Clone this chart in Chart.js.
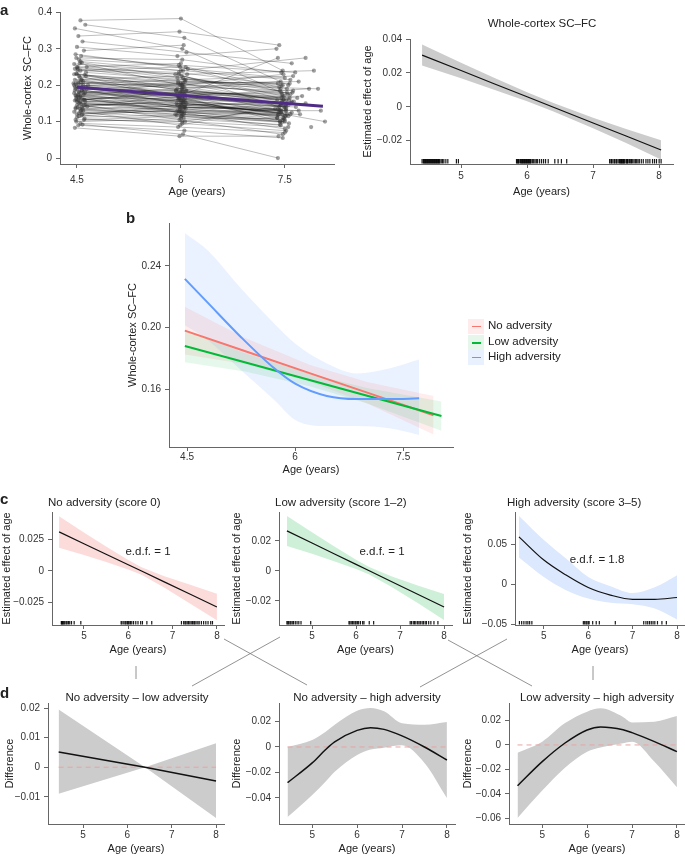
<!DOCTYPE html>
<html>
<head>
<meta charset="utf-8">
<script src="https://cdn.jsdelivr.net/npm/chart.js@4.4.0/dist/chart.umd.min.js"></script>
<style>
  body{margin:0;background:#fff;width:685px;height:856px;position:relative;overflow:hidden;font-family:"Liberation Sans",Arial,sans-serif;color:#222}
  canvas{position:absolute}
  .t{position:absolute;font-size:11.5px;white-space:nowrap;line-height:1}
  .lt{position:absolute;font-weight:bold;font-size:15px;line-height:1}
  .key{position:absolute;width:16px;height:15px}
  .key i{position:absolute;left:4px;width:9px;top:7px}
  svg{position:absolute;left:0;top:0}
</style>
</head>
<body>
<svg width="685" height="856">
  <g stroke="#777" stroke-width="0.8">
    <line x1="136" y1="666" x2="136" y2="679"/>
    <line x1="593" y1="666" x2="593" y2="680"/>
    <line x1="224" y1="639" x2="307" y2="685"/>
    <line x1="280" y1="637" x2="192" y2="686"/>
    <line x1="448" y1="640" x2="532" y2="686"/>
    <line x1="507" y1="639" x2="420" y2="687"/>
  </g>
</svg>
<script>
// ---------- panel a, left: individual trajectories ----------
const w1Age = [4.47,4.55,4.62,4.52,4.58,4.50,4.60,4.48,4.53,4.57, 4.46,4.64,4.51,4.55,4.49,4.61,4.54,4.47,4.59,4.52, 4.56,4.50,4.63,4.48,4.57,4.53,4.46,4.60,4.51,4.55, 4.49,4.58,4.47,4.62,4.52,4.56,4.50,4.65,4.48,4.54, 4.59,4.46,4.53,4.57,4.50,4.61,4.49,4.55,4.52,4.47, 4.58,4.51,4.56,4.60,4.48,null,4.54,4.63,4.45,4.52, null,4.57,4.50,4.66,4.49,4.55,4.53,4.60,4.47,4.58, 4.51,4.56,4.50,4.62,null,4.53,4.48,4.55,4.59,4.46,
  4.52,4.57,4.49,4.60,4.54,4.47,4.63,4.50,4.56,4.53, 4.48,4.59,4.51,4.55,4.61,4.46,4.58,4.52,4.64,4.50, 4.55,4.47,4.60,4.53,4.57,4.49,4.62,4.51,4.56,4.48];
const w1Val = [0.356,0.378,0.366,0.335,0.320,0.305,0.295,0.285,0.270,0.262, 0.258,0.250,0.245,0.240,0.232,0.228,0.222,0.215,0.210,0.205, 0.200,0.198,0.195,0.190,0.186,0.182,0.178,0.175,0.170,0.168, 0.165,0.162,0.158,0.155,0.152,0.148,0.145,0.142,0.138,0.135, 0.130,0.127,0.122,0.118,0.112,0.108,0.100,0.095,0.090,0.083, 0.092,0.250,0.215,0.190,0.172,null,0.260,0.235,0.205,0.160, null,0.140,0.120,0.200,0.275,0.170,0.225,0.145,0.185,0.135, 0.240,0.210,0.155,0.180,null,0.165,0.105,0.128,0.200,0.230,
  0.210,0.185,0.170,0.160,0.150,0.195,0.225,0.250,0.130,0.115, 0.205,0.178,0.140,0.265,0.160,0.200,0.120,0.175,0.190,0.230, 0.155,0.245,0.105,0.180,0.215,0.160,0.145,0.190,0.280,0.135];
const w2Age = [6.02,6.00,6.05,5.98,6.08,5.95,6.04,6.10,5.97,6.03, 6.00,5.92,6.06,5.99,6.02,5.96,6.07,6.01,5.94,6.05, 5.98,6.03,6.00,5.93,6.08,6.01,5.97,6.04,5.99,6.06, 5.95,6.02,6.00,5.96,6.05,5.98,6.03,5.92,6.07,6.01, 5.97,6.04,5.99,6.06,5.94,6.02,6.00,5.96,6.05,5.98, 6.03,6.00,null,6.02,5.95,6.04,6.01,6.07,5.99,6.03, 5.97,6.00,6.05,5.93,6.02,6.00,6.06,5.98,6.04,5.95, 6.09,null,6.01,6.03,null,5.97,6.02,5.99,6.05,5.96,
  6.01,5.97,6.04,6.00,6.06,5.98,6.03,5.95,6.02,5.99, 6.05,6.00,5.96,6.03,6.08,5.94,6.01,6.04,5.98,6.02, 6.06,5.97,6.00,6.03,5.95,6.05,6.01,5.99,6.07,6.02];
const w2Val = [0.300,0.383,0.330,0.347,0.290,0.280,0.310,0.245,0.255,0.220, 0.240,0.230,0.210,0.250,0.190,0.205,0.185,0.225,0.175,0.195, 0.160,0.205,0.170,0.185,0.150,0.175,0.165,0.140,0.180,0.155, 0.130,0.165,0.145,0.160,0.125,0.140,0.150,0.120,0.135,0.115, 0.128,0.110,0.130,0.100,0.118,0.095,0.108,0.085,0.075,0.060, 0.065,0.260,null,0.200,0.190,0.120,0.200,0.215,0.200,0.180, 0.230,0.160,0.140,0.185,0.270,0.125,0.165,0.105,0.155,0.145, 0.230,null,0.130,0.170,null,0.125,0.100,0.090,0.175,0.210,
  0.190,0.170,0.160,0.150,0.140,0.180,0.195,0.220,0.120,0.135, 0.215,0.205,0.170,0.240,0.185,0.150,0.145,0.135,0.165,0.185, 0.145,0.235,0.115,0.155,0.170,0.175,0.155,0.140,0.250,0.125];
const w3Age = [7.45,7.47,7.55,7.42,7.60,7.38,null,7.50,7.65,7.44, 7.80,7.52,7.40,7.58,7.47,7.70,7.43,7.49,7.55,7.62, 7.41,7.46,7.85,7.50,7.44,7.57,7.39,7.52,7.48,7.66, 7.43,7.53,7.45,7.75,7.50,7.42,7.58,7.47,7.51,7.44, 7.60,7.49,7.40,7.55,7.46,7.52,7.43,7.50,7.47,7.41, 7.40,null,7.45,7.53,7.44,7.50,7.48,7.62,null,7.46, 7.42,7.59,7.51,7.68,7.45,7.39,7.56,7.47,7.53,7.80, 7.92,7.98,8.02,8.08,7.88,7.72,7.36,7.44,7.40,7.57,
  7.48,7.44,7.52,7.41,7.55,7.47,7.60,7.43,7.50,7.46, 7.42,7.54,7.49,7.58,7.45,7.40,7.63,7.51,7.44,7.56, 7.70,7.47,7.43,7.52,7.39,7.61,7.48,7.45,7.53,7.50];
const w3Val = [0.180,0.240,0.200,0.310,0.260,0.300,null,0.220,0.235,0.190, 0.275,0.160,0.205,0.175,0.150,0.210,0.130,0.170,0.145,0.185, 0.120,0.155,0.190,0.140,0.125,0.165,0.110,0.135,0.160,0.140, 0.100,0.150,0.128,0.170,0.115,0.132,0.120,0.105,0.145,0.090, 0.125,0.108,0.118,0.085,0.098,0.075,0.092,0.070,0.055,0.060, 0.000,null,0.200,0.180,0.210,0.100,0.230,0.225,null,0.175, 0.140,0.150,0.130,0.165,0.235,0.110,0.095,0.065,0.120,0.150, 0.240,0.190,0.130,0.100,0.085,0.120,0.135,0.145,0.275,0.205,
  0.160,0.145,0.130,0.125,0.115,0.170,0.155,0.185,0.105,0.120, 0.195,0.175,0.140,0.215,0.165,0.135,0.155,0.115,0.150,0.160, 0.130,0.200,0.100,0.140,0.160,0.180,0.110,0.130,0.190,0.080];
const fitAge = [4.5, 8.05];
const fitVal = [0.1945, 0.1425];

// ---------- panel a, right: smooth of age ----------
const aAge   = [4.41, 5.0, 5.5, 6.0, 6.4, 7.0, 7.5, 8.03];
const aFit   = [0.0305, 0.0214, 0.0136, 0.0059, -0.0003, -0.0096, -0.0173, -0.0255];
const aUpper = [0.0367, 0.0260, 0.0171, 0.0086, 0.0022, -0.0065, -0.0132, -0.0198];
const aLower = [0.0243, 0.0168, 0.0101, 0.0032, -0.0028, -0.0127, -0.0214, -0.0312];
const rugAll = [4.41,4.43,4.44,4.45,4.46,4.47,4.48,4.49,4.5,4.51,4.52,4.53,4.54,4.55,4.56,4.57,4.58,4.59,4.6,4.61,4.62,4.63,4.64,4.65,4.66,4.67,4.68,4.7,4.72,4.74,4.77,4.8,4.93,4.96,
  5.84,5.85,5.86,5.87,5.88,5.9,5.91,5.92,5.93,5.94,5.95,5.96,5.97,5.98,5.99,6.0,6.01,6.02,6.03,6.04,6.05,6.06,6.08,6.1,6.12,6.14,6.16,6.19,6.22,6.25,6.28,6.32,6.42,6.47,6.52,6.6,
  7.25,7.27,7.28,7.3,7.32,7.33,7.35,7.36,7.38,7.4,7.41,7.42,7.43,7.44,7.45,7.46,7.47,7.48,7.5,7.51,7.52,7.53,7.55,7.57,7.58,7.6,7.62,7.64,7.66,7.68,7.7,7.73,7.76,7.8,7.83,7.86,7.9,7.93,7.96,8.0,8.03];

// ---------- panel b: group trajectories ----------
const noAge = [4.47, 5.3, 6.2, 7.0, 7.92];
const noFit = [0.198, 0.1848, 0.1704, 0.1577, 0.143];
const noUp  = [0.2135, 0.1933, 0.1759, 0.1647, 0.1555];
const noLo  = [0.1825, 0.1763, 0.1649, 0.1507, 0.1305];
const lowAge = [4.47, 5.3, 6.2, 7.0, 8.03];
const lowFit = [0.188, 0.1774, 0.1659, 0.1557, 0.1425];
const lowUp  = [0.1985, 0.1834, 0.1699, 0.1607, 0.152];
const lowLo  = [0.1775, 0.1714, 0.1619, 0.1507, 0.133];
const highAge = [4.47, 4.79, 5.25, 5.71, 6.0, 6.44, 6.86, 7.3, 7.72];
const highFit = [0.2316, 0.2160, 0.1937, 0.1735, 0.1635, 0.1555, 0.1535, 0.1535, 0.1540];
const highUp  = [0.2614, 0.2500, 0.2253, 0.2026, 0.1896, 0.1767, 0.1702, 0.1734, 0.1792];
const highLo  = [0.2015, 0.1918, 0.1723, 0.1530, 0.1400, 0.1360, 0.1360, 0.1345, 0.1302];

// ---------- panel c: smooths per group ----------
const c1Age = [4.44, 5.0, 5.5, 6.0, 6.3, 6.8, 7.4, 8.0];
const c1Fit = [0.031, 0.0216, 0.0133, 0.0049, -0.0001, -0.0085, -0.0185, -0.0286];
const c1Up  = [0.0435, 0.0306, 0.0195, 0.0087, 0.0029, -0.004, -0.011, -0.0181];
const c1Lo  = [0.0185, 0.0126, 0.0071, 0.0011, -0.0031, -0.013, -0.026, -0.0391];
const c1Rug = [4.49,4.5,4.52,4.53,4.55,4.57,4.6,4.62,4.65,4.68,4.72,4.78,4.93,5.84,5.86,5.9,5.93,5.95,5.98,6.0,6.02,6.05,6.08,6.12,6.17,6.22,6.28,6.32,6.42,6.53,7.2,7.25,7.28,7.3,7.33,7.36,7.39,7.42,7.45,7.48,7.5,7.53,7.57,7.6,7.65,7.7,7.75,7.8,7.86,7.9];
const c2Age = [4.43, 5.0, 5.5, 6.0, 6.3, 6.8, 7.4, 8.0];
const c2Fit = [0.0267, 0.0186, 0.0115, 0.0044, 0.0001, -0.0070, -0.0155, -0.024];
const c2Up  = [0.0367, 0.0258, 0.0165, 0.0074, 0.0026, -0.0035, -0.0097, -0.0153];
const c2Lo  = [0.0167, 0.0114, 0.0065, 0.0014, -0.0024, -0.0105, -0.0213, -0.0327];
const c2Rug = [4.43,4.45,4.47,4.5,4.52,4.55,4.58,4.62,4.66,4.7,4.75,4.97,5.84,5.86,5.89,5.92,5.95,5.98,6.0,6.03,6.06,6.1,6.15,6.18,6.3,6.4,7.23,7.26,7.3,7.33,7.36,7.4,7.43,7.46,7.5,7.53,7.57,7.6,7.65,7.7,7.77,7.86];
const c3Age = [4.44, 5.0, 5.5, 6.0, 6.5, 7.0, 7.5, 8.0];
const c3Fit = [0.059, 0.030, 0.0113, -0.0042, -0.0137, -0.019, -0.019, -0.0167];
const c3Up  = [0.085, 0.055, 0.032, 0.009, -0.0025, -0.011, -0.004, 0.011];
const c3Lo  = [0.0333, 0.009, -0.0075, -0.018, -0.0233, -0.025, -0.0304, -0.044];
const c3Rug = [4.45,4.5,4.55,4.6,4.64,4.68,4.73,5.89,5.92,5.95,5.97,6.0,6.02,6.1,6.18,6.25,6.61,7.25,7.3,7.34,7.38,7.42,7.46,7.5,7.56,7.66,7.76];

// ---------- panel d: pairwise differences ----------
const d1Age = [4.45, 6.4, 8.0];
const d1Fit = [0.0051, 0.0, -0.0047];
const d1Up  = [0.0195, 0.0, 0.0081];
const d1Lo  = [-0.009, 0.0, -0.0172];
const d2Age = [4.45, 5.0, 5.3, 5.5, 6.0, 6.3, 6.6, 7.0, 7.5, 8.0];
const d2Fit = [-0.028, -0.0125, -0.002, 0.004, 0.013, 0.0151, 0.0138, 0.0087, 0.0, -0.0102];
const d2Up  = [0.0, 0.0055, 0.012, 0.0175, 0.0285, 0.0306, 0.028, 0.0186, 0.0175, 0.0196];
const d2Lo  = [-0.055, -0.0376, -0.027, -0.0195, -0.0063, -0.002, -0.0005, 0.0013, -0.0125, -0.040];
const d3Age = [4.45, 5.0, 5.5, 6.0, 6.3, 6.8, 7.0, 7.5, 8.0];
const d3Fit = [-0.0334, -0.0137, 0.0014, 0.0123, 0.0148, 0.0125, 0.0101, 0.0027, -0.0055];
const d3Up  = [-0.0063, 0.0027, 0.0177, 0.0273, 0.030, 0.023, 0.0185, 0.019, 0.0237];
const d3Lo  = [-0.0598, -0.0374, -0.0188, -0.0055, -0.002, 0.0015, 0.0027, -0.0137, -0.0347];
const zeroAge = [4.45, 8.0];
const zeroVal = [0, 0];

// ---------- ticks ----------
const xTicksA = [4.5, 6, 7.5], xLabelsA = ['4.5', '6', '7.5'];
const xTicks = [5, 6, 7, 8], xLabels = ['5', '6', '7', '8'];

Chart.defaults.font.family = '"Liberation Sans", Arial, sans-serif';
Chart.defaults.color = '#333';

const rugPlugin = {
  id: 'rug',
  afterDatasetsDraw(chart, args, opts) {
    if (!opts || !opts.ages) return;
    const {ctx, chartArea, scales} = chart;
    ctx.save();
    ctx.strokeStyle = 'rgba(0,0,0,0.9)';
    ctx.lineWidth = 1.2;
    opts.ages.forEach(a => {
      const px = scales.x.getPixelForValue(a);
      ctx.beginPath();
      ctx.moveTo(px, chartArea.bottom - opts.h);
      ctx.lineTo(px, chartArea.bottom - 0.5);
      ctx.stroke();
    });
    ctx.restore();
  }
};

const pts = (xs, ys) => xs.map((x, i) => ({x: x, y: ys[i]}));
function lineDs(xs, ys, color, width, extra) {
  return Object.assign({data: pts(xs, ys), borderColor: color, borderWidth: width, pointRadius: 0, fill: false, tension: 0, order: 1}, extra || {});
}
function band(xs, lo, hi, color, order, smooth) {
  const common = {borderWidth: 0, pointRadius: 0, order: order};
  if (smooth) common.cubicInterpolationMode = 'monotone';
  return [
    Object.assign({data: pts(xs, lo), fill: false}, common),
    Object.assign({data: pts(xs, hi), fill: '-1', backgroundColor: color}, common)
  ];
}

function panel(cfg) {
  const [cx, cy, cw, ch] = cfg.box;
  const [L, T, R, B] = cfg.plot;
  const cv = document.createElement('canvas');
  cv.width = cw; cv.height = ch;
  cv.style.cssText = 'left:' + cx + 'px;top:' + cy + 'px;width:' + cw + 'px;height:' + ch + 'px';
  document.body.appendChild(cv);
  const yw = L - cx, xh = cy + ch - B;
  const tf = {size: 11};
  const axisGrid = {drawOnChartArea: false, tickLength: 4, color: '#666', lineWidth: 1};
  const axisBorder = {color: '#666', width: 1};
  new Chart(cv, {
    type: 'line',
    data: {datasets: cfg.datasets},
    options: {
      responsive: false,
      animation: false,
      layout: {padding: {left: 0, top: T - cy, right: cx + cw - R, bottom: 0}},
      plugins: {legend: {display: false}, tooltip: {enabled: false}, rug: cfg.rug || {}},
      scales: {
        x: {
          type: 'linear', min: cfg.xr[0], max: cfg.xr[1],
          afterFit: s => { s.height = xh; },
          afterBuildTicks: s => { s.ticks = cfg.xt.map(v => ({value: v})); },
          ticks: {autoSkip: false, maxRotation: 0, padding: cfg.xtp, font: {size: 10}, color: '#333', callback: (v, i) => cfg.xl[i]},
          grid: axisGrid, border: axisBorder,
          title: {display: true, text: 'Age (years)', font: tf, color: '#222', padding: {top: 0, bottom: cy + ch - cfg.xty - 6.6}}
        },
        y: {
          type: 'linear', min: cfg.yr[0], max: cfg.yr[1],
          afterFit: s => { s.width = yw; },
          afterBuildTicks: s => { s.ticks = cfg.yt.map(v => ({value: v})); },
          ticks: {autoSkip: false, padding: 4, font: {size: 10}, color: '#333', callback: (v, i) => cfg.yl[i]},
          grid: axisGrid, border: axisBorder,
          title: {display: true, text: cfg.ytitle, font: tf, color: '#222', padding: {top: cfg.ytx - cx - 6.6, bottom: 0}}
        }
      }
    },
    plugins: [rugPlugin]
  });
}

// panel a left: trajectories
const trajPts = [], allPts = [];
w1Age.forEach((_, i) => {
  [[w1Age[i], w1Val[i]], [w2Age[i], w2Val[i]], [w3Age[i], w3Val[i]]].forEach(p => {
    if (p[0] !== null) { trajPts.push({x: p[0], y: p[1]}); allPts.push({x: p[0], y: p[1]}); }
  });
  trajPts.push({x: 8, y: null});
});
panel({
  box: [0, 0, 340, 200], plot: [60, 12, 334, 164],
  xr: [4.255, 8.21], xt: xTicksA, xl: xLabelsA, xtp: 6.5, xty: 192,
  yr: [-0.0164, 0.401], yt: [0, 0.1, 0.2, 0.3, 0.4], yl: ['0', '0.1', '0.2', '0.3', '0.4'],
  ytitle: 'Whole-cortex SC–FC', ytx: 28,
  datasets: [
    lineDs(fitAge, fitVal, '#4F2D86', 3, {order: 0}),
    {data: allPts, showLine: false, pointRadius: 2.1, pointBorderWidth: 0, pointBackgroundColor: 'rgba(55,55,55,0.48)', order: 2},
    {data: trajPts, borderColor: 'rgba(0,0,0,0.32)', borderWidth: 0.8, pointRadius: 0, spanGaps: false, fill: false, order: 3}
  ]
});

// panel a right
panel({
  box: [340, 0, 345, 200], plot: [410, 39, 673, 164],
  xr: [4.227, 8.21], xt: xTicks, xl: xLabels, xtp: 2.5, xty: 192,
  yr: [-0.0338, 0.04], yt: [-0.02, 0, 0.02, 0.04], yl: ['−0.02', '0', '0.02', '0.04'],
  ytitle: 'Estimated effect of age', ytx: 368,
  rug: {ages: rugAll, h: 5},
  datasets: [lineDs(aAge, aFit, '#111', 1.2)].concat(band(aAge, aLower, aUpper, '#CCCCCC', 3, false))
});

// panel b
panel({
  box: [120, 200, 350, 280], plot: [169, 223, 453, 447],
  xr: [4.25, 8.19], xt: xTicksA, xl: xLabelsA, xtp: 0, xty: 470,
  yr: [0.1224, 0.2679], yt: [0.16, 0.20, 0.24], yl: ['0.16', '0.20', '0.24'],
  ytitle: 'Whole-cortex SC–FC', ytx: 133,
  datasets: [
    lineDs(highAge, highFit, '#619CFF', 2, {cubicInterpolationMode: 'monotone', order: 0}),
    lineDs(lowAge, lowFit, '#00BA38', 2, {order: 1}),
    lineDs(noAge, noFit, '#F8766D', 2, {order: 2})
  ].concat(
    band(lowAge, lowLo, lowUp, 'rgba(0,186,56,0.10)', 4, false),
    band(noAge, noLo, noUp, 'rgba(248,118,109,0.13)', 5, false),
    band(highAge, highLo, highUp, 'rgba(97,156,255,0.13)', 6, true)
  )
});

// panel c
panel({
  box: [0, 480, 232, 180], plot: [52, 512, 224, 625],
  xr: [4.28, 8.16], xt: xTicks, xl: xLabels, xtp: 1, xty: 650,
  yr: [-0.0429, 0.0468], yt: [-0.025, 0, 0.025], yl: ['−0.025', '0', '0.025'],
  ytitle: 'Estimated effect of age', ytx: 7,
  rug: {ages: c1Rug, h: 4},
  datasets: [lineDs(c1Age, c1Fit, '#111', 1.2)].concat(band(c1Age, c1Lo, c1Up, '#FCDCDB', 3, false))
});
panel({
  box: [230, 480, 226, 180], plot: [279, 512, 452, 625],
  xr: [4.25, 8.18], xt: xTicks, xl: xLabels, xtp: 1, xty: 650,
  yr: [-0.036, 0.0393], yt: [-0.02, 0, 0.02], yl: ['−0.02', '0', '0.02'],
  ytitle: 'Estimated effect of age', ytx: 237,
  rug: {ages: c2Rug, h: 4},
  datasets: [lineDs(c2Age, c2Fit, '#111', 1.2)].concat(band(c2Age, c2Lo, c2Up, '#CFF0D8', 3, false))
});
panel({
  box: [460, 480, 225, 180], plot: [515, 512, 685, 625],
  xr: [4.35, 8.18], xt: xTicks, xl: xLabels, xtp: 1.5, xty: 650,
  yr: [-0.051, 0.09], yt: [-0.05, 0, 0.05], yl: ['−0.05', '0', '0.05'],
  ytitle: 'Estimated effect of age', ytx: 468,
  rug: {ages: c3Rug, h: 4},
  datasets: [lineDs(c3Age, c3Fit, '#111', 1.2, {cubicInterpolationMode: 'monotone'})].concat(band(c3Age, c3Lo, c3Up, '#DCE8FD', 3, true))
});

// panel d
const zeroDash = () => lineDs(zeroAge, zeroVal, '#E8A3A3', 1, {borderDash: [5, 4], order: 2});
panel({
  box: [0, 680, 232, 176], plot: [48, 703, 224, 824],
  xr: [4.21, 8.18], xt: xTicks, xl: xLabels, xtp: 1, xty: 849,
  yr: [-0.0192, 0.0217], yt: [-0.01, 0, 0.01, 0.02], yl: ['−0.01', '0', '0.01', '0.02'],
  ytitle: 'Difference', ytx: 10,
  datasets: [lineDs(d1Age, d1Fit, '#111', 1.5), zeroDash()].concat(band(d1Age, d1Lo, d1Up, '#CCCCCC', 3, false))
});
panel({
  box: [230, 680, 226, 176], plot: [279, 703, 455, 824],
  xr: [4.26, 8.18], xt: xTicks, xl: xLabels, xtp: 1, xty: 849,
  yr: [-0.0604, 0.0345], yt: [-0.04, -0.02, 0, 0.02], yl: ['−0.04', '−0.02', '0', '0.02'],
  ytitle: 'Difference', ytx: 237,
  datasets: [lineDs(d2Age, d2Fit, '#111', 1.5, {cubicInterpolationMode: 'monotone'}), zeroDash()].concat(band(d2Age, d2Lo, d2Up, '#CCCCCC', 3, true))
});
panel({
  box: [460, 680, 225, 176], plot: [509, 703, 685, 824],
  xr: [4.26, 8.18], xt: xTicks, xl: xLabels, xtp: 1, xty: 849,
  yr: [-0.0648, 0.0344], yt: [-0.06, -0.04, -0.02, 0, 0.02], yl: ['−0.06', '−0.04', '−0.02', '0', '0.02'],
  ytitle: 'Difference', ytx: 468,
  datasets: [lineDs(d3Age, d3Fit, '#111', 1.5, {cubicInterpolationMode: 'monotone'}), zeroDash()].concat(band(d3Age, d3Lo, d3Up, '#CCCCCC', 3, true))
});

// ---------- text ----------
function txt(s, x, y, align, cls) {
  const d = document.createElement('div');
  d.className = cls || 't';
  d.textContent = s;
  d.style.left = x + 'px';
  d.style.top = y + 'px';
  d.style.transform = align === 'c' ? 'translate(-50%,-50%)' : 'translate(0,-50%)';
  document.body.appendChild(d);
}
txt('a', 0, 9, 'l', 'lt');
txt('b', 126, 217, 'l', 'lt');
txt('c', 0, 498, 'l', 'lt');
txt('d', 0, 692, 'l', 'lt');
txt('Whole-cortex SC–FC', 542, 24, 'c');
txt('No adversity (score 0)', 48, 503, 'l');
txt('Low adversity (score 1–2)', 275, 503, 'l');
txt('High adversity (score 3–5)', 507, 503, 'l');
txt('e.d.f. = 1', 148, 552, 'c');
txt('e.d.f. = 1', 382, 552, 'c');
txt('e.d.f. = 1.8', 597, 560, 'c');
txt('No adversity – low adversity', 137, 698, 'c');
txt('No adversity – high adversity', 367, 698, 'c');
txt('Low adversity – high adversity', 597, 698, 'c');

// legend for panel b
const legNames = ['No adversity', 'Low adversity', 'High adversity'];
const legColors = ['#F8766D', '#00BA38', '#619CFF'];
const legFills = ['#FDECEB', '#E6F6EA', '#EAF1FE'];
const legY = [326, 342, 357];
legNames.forEach((n, i) => {
  const k = document.createElement('div');
  k.className = 'key';
  k.style.left = '468px';
  k.style.top = (legY[i] - 7.5) + 'px';
  k.style.background = legFills[i];
  const l = document.createElement('i');
  l.style.background = legColors[i];
  l.style.height = (i === 1 ? 2.5 : 1.5) + 'px';
  k.appendChild(l);
  document.body.appendChild(k);
  txt(n, 488, legY[i], 'l');
});
</script>
</body>
</html>
